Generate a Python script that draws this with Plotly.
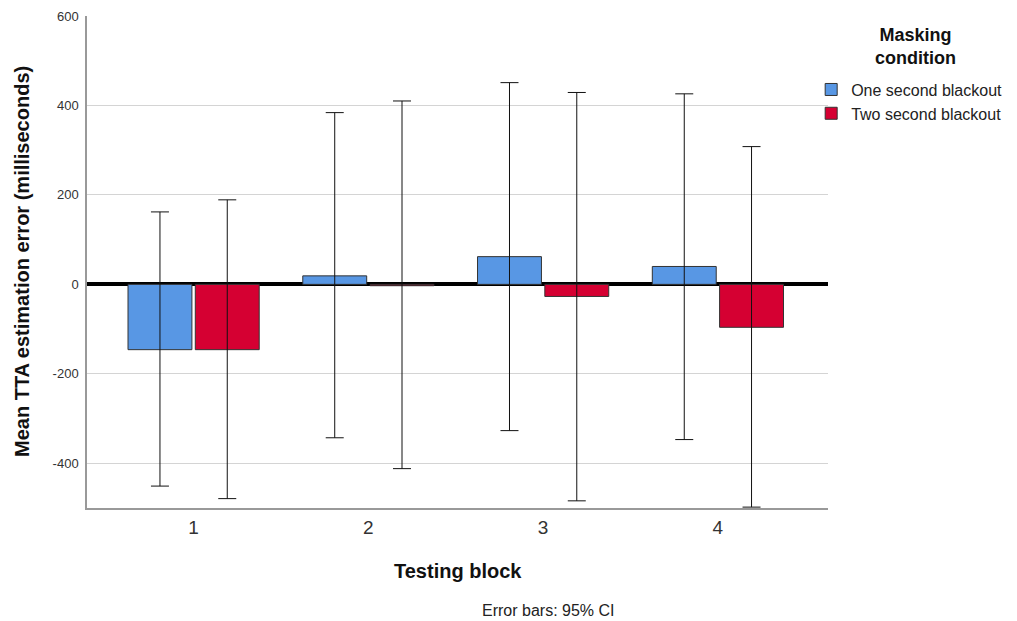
import plotly.graph_objects as go

blocks = ["1", "2", "3", "4"]
series_names = ["One second blackout", "Two second blackout"]
mean_one = [-146, 19, 62, 40]
ci_hi_one = [162, 384, 451, 426]
ci_lo_one = [-451, -343, -327, -347]
mean_two = [-146, -3, -27, -96]
ci_hi_two = [189, 410, 429, 308]
ci_lo_two = [-479, -412, -484, -498]
y_tick_vals = [-400, -200, 0, 200, 400, 600]
y_tick_text = ["-400", "-200", "0", "200", "400", "600"]
colors = ["#5897E4", "#D50032"]

FONT = "Liberation Sans, Arial, sans-serif"

fig = go.Figure()
for name, m, hi, lo, c in [
    (series_names[0], mean_one, ci_hi_one, ci_lo_one, colors[0]),
    (series_names[1], mean_two, ci_hi_two, ci_lo_two, colors[1]),
]:
    fig.add_trace(go.Bar(
        x=blocks, y=m, name=name,
        marker=dict(color=c, line=dict(color="#333333", width=1)),
        error_y=dict(type="data", symmetric=False,
                     array=[h - v for h, v in zip(hi, m)],
                     arrayminus=[v - l for l, v in zip(lo, m)],
                     color="#111111", thickness=1, width=9),
    ))

fig.update_layout(
    width=1017, height=621,
    margin=dict(l=87, r=189, t=16, b=113, autoexpand=False),
    plot_bgcolor="white", paper_bgcolor="white",
    font=dict(family=FONT, color="#222222"),
    barmode="group", bargap=0.23, bargroupgap=0.05,
    showlegend=True,
    legend=dict(x=0.9773, xanchor="left", y=0.885, yanchor="top",
                font=dict(size=16, family=FONT, color="#222222"),
                bgcolor="rgba(0,0,0,0)", tracegroupgap=0,
                itemclick=False),
    xaxis=dict(type="category", range=[-0.61, 3.63],
               showline=True, linecolor="#999999", linewidth=1.5,
               showgrid=False, ticks="", tickfont=dict(size=19, color="#333333"),
               ticklabelstandoff=1),
    yaxis=dict(range=[-500, 600], tickmode="array",
               tickvals=y_tick_vals, ticktext=y_tick_text,
               showline=True, linecolor="#999999", linewidth=1.5,
               showgrid=True, gridcolor="#d4d4d4", gridwidth=1,
               zeroline=True, zerolinecolor="black", zerolinewidth=3.5,
               ticks="", tickfont=dict(size=13, color="#333333"),
               ticklabelstandoff=4),
    annotations=[
        dict(text="<b>Mean TTA estimation error (milliseconds)</b>", xref="paper", yref="paper",
             x=-0.0877, y=0.5, xanchor="center", yanchor="middle", textangle=-90,
             showarrow=False, font=dict(size=20, color="#111111")),
        dict(text="<b>Testing block</b>", xref="paper", yref="paper",
             x=0.5, y=-0.129, xanchor="center", yanchor="middle",
             showarrow=False, font=dict(size=20, color="#111111")),
        dict(text="Error bars: 95% CI", xref="paper", yref="paper",
             x=0.622, y=-0.208, xanchor="center", yanchor="middle",
             showarrow=False, font=dict(size=16, color="#222222")),
        dict(text="<b>Masking<br>condition</b>", xref="paper", yref="paper",
             x=1.118, y=0.939, xanchor="center", yanchor="middle",
             showarrow=False, font=dict(size=18, color="#111111")),
    ],
)

fig.write_html("out.html")
